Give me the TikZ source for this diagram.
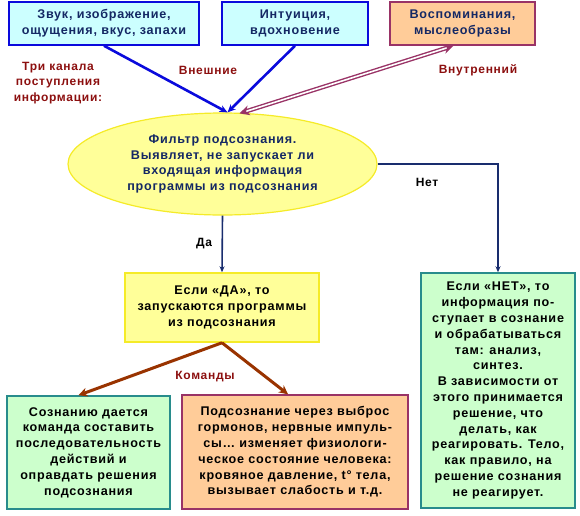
\documentclass[tikz,border=0pt]{standalone}
\usepackage{fontspec}
\setmainfont{Liberation Sans}[LetterSpace=6]
\usetikzlibrary{arrows.meta, shapes.geometric}
\definecolor{cyanfill}{RGB}{204,255,255}
\definecolor{blueline}{RGB}{10,10,220}
\definecolor{peachfill}{RGB}{255,204,153}
\definecolor{plumline}{RGB}{153,51,102}
\definecolor{lemonfill}{RGB}{255,255,153}
\definecolor{lemonline}{RGB}{245,235,40}
\definecolor{mintfill}{RGB}{204,255,204}
\definecolor{tealline}{RGB}{40,140,140}
\definecolor{navytext}{RGB}{20,40,100}
\definecolor{redlabel}{RGB}{140,15,15}
\definecolor{brownline}{RGB}{153,51,0}
\definecolor{navyline}{RGB}{25,45,110}
\tikzset{
  cell/.style    = {align=center, inner sep=0pt,
                    font=\fontsize{12.6}{15.8}\selectfont\bfseries},
  inbox/.style   = {cell, draw=blueline, fill=cyanfill, line width=1.5pt,
                    text=navytext, minimum height=43pt},
  membox/.style  = {cell, draw=plumline, fill=peachfill, line width=1.5pt,
                    text=navytext, minimum height=43pt},
  filter/.style  = {cell, ellipse, draw=lemonline, fill=lemonfill, line width=1.2pt,
                    text=navytext, minimum width=309pt, minimum height=102pt},
  yesbox/.style  = {cell, draw=lemonline, fill=lemonfill, line width=1.5pt},
  gbox/.style    = {cell, draw=tealline, fill=mintfill, line width=1.5pt},
  obox/.style    = {cell, draw=plumline, fill=peachfill, line width=1.5pt},
  lbl/.style     = {font=\fontsize{12}{15.5}\selectfont\bfseries, text=redlabel, align=center},
  ans/.style     = {font=\fontsize{12}{15}\selectfont\bfseries, text=black},
  inarrow/.style = {-{Stealth[length=8pt, width=7pt]}, line width=2.6pt, color=blueline},
  memarrow/.style= {{Stealth[length=10pt, width=10pt]}-{Stealth[length=10pt, width=10pt]},
                    double=white, double distance=1.6pt, line width=1.4pt, color=plumline},
  flow/.style    = {-{Stealth[length=6pt, width=5pt]}, line width=1.6pt, color=navyline},
  cmdarrow/.style= {-{Stealth[length=9pt, width=9pt]}, line width=3pt, color=brownline},
}

\begin{document}
\begin{tikzpicture}[x=1pt, y=-1pt]
  \useasboundingbox (0,0) rectangle (580,515);

  % three sources
  \node[inbox, minimum width=190pt] (snd) at (104,23.5)
    {Звук, изображение,\\ощущения, вкус, запахи};
  \node[inbox, minimum width=146pt] (intu) at (295,23.5)
    {Интуиция,\\вдохновение};
  \node[membox, minimum width=145pt] (mem) at (462.5,23.5)
    {Воспоминания,\\мыслеобразы};

  \node[lbl] (chan) at (58,83) {Три канала\\поступления\\информации:};
  \node[lbl] (ext) at (208,70) {Внешние};
  \node[lbl] (int) at (478,70) {Внутренний};

  % filter
  \node[filter] (filt) at (222.5,164) {
    Фильтр подсознания.\\
    Выявляет, не запускает ли\\
    входящая информация\\
    программы из подсознания
  };

  \draw[inarrow] (snd.south) -- ([xshift=5pt]filt.north);
  \draw[inarrow] (intu.south) -- ([xshift=5pt]filt.north);
  \draw[memarrow] ([xshift=17pt, yshift=-1pt]filt.north) -- ([xshift=-9pt]mem.south);

  % answers
  \node[yesbox, minimum width=194pt, minimum height=69pt] (yes) at (222,307.5) {
    Если «ДА», то\\
    запускаются программы\\
    из подсознания
  };
  \node[gbox, minimum width=154pt, minimum height=235pt] (no) at (498,390.5) {
    Если «НЕТ», то\\
    информация по-\\
    ступает в сознание\\
    и обрабатываться\\
    там: анализ,\\
    синтез.\\
    В зависимости от\\
    этого принимается\\
    решение, что\\
    делать, как\\
    реагировать. Тело,\\
    как правило, на\\
    решение сознания\\
    не реагирует.
  };

  \draw[flow] (filt.south) -- node[ans, left=6pt, pos=0.5] {Да} (yes.north);
  \draw[flow] (filt.east) -- (no.north |- filt.east) -- (no.north);
  \node[ans] (nolbl) at (427,182) {Нет};

  % consequences
  \node[gbox, minimum width=163pt, minimum height=113pt] (cmd) at (88.5,452.5) {
    Сознанию дается\\
    команда составить\\
    последовательность\\
    действий и\\
    оправдать решения\\
    подсознания
  };
  \node[obox, minimum width=226pt, minimum height=114pt] (horm) at (295,452) {
    Подсознание через выброс\\
    гормонов, нервные импуль-\\
    сы\dots{} изменяет физиологи-\\
    ческое состояние человека:\\
    кровяное давление, t° тела,\\
    вызывает слабость и т.д.
  };

  \draw[cmdarrow] (yes.south) -- ([xshift=-10pt]cmd.north);
  \draw[cmdarrow] (yes.south) -- ([xshift=-7pt]horm.north);
  \node[lbl] (cmds) at (205,377) {Команды};
\end{tikzpicture}
\end{document}
